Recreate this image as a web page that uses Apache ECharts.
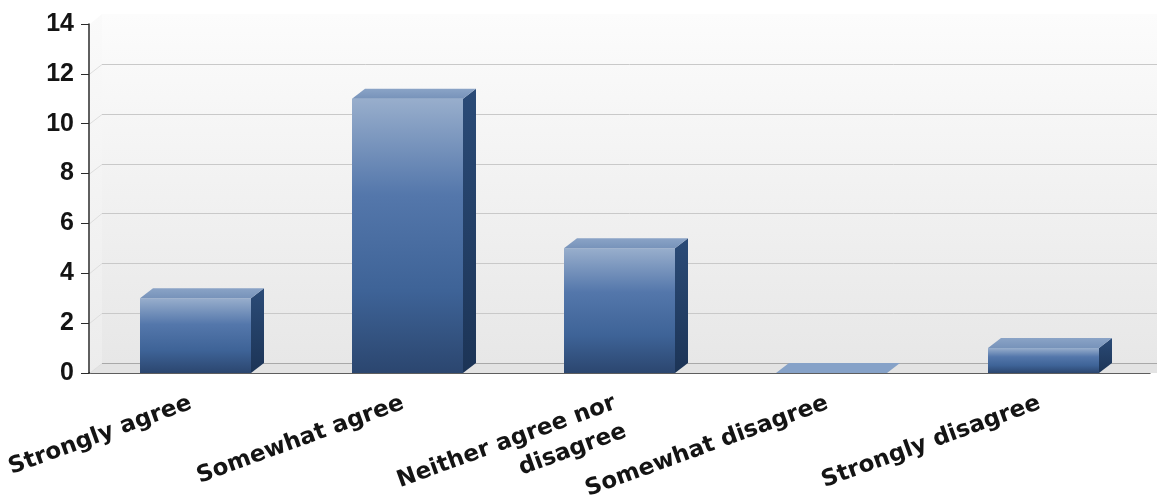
<!DOCTYPE html>
<html><head><meta charset="utf-8">
<script src="https://cdn.jsdelivr.net/npm/echarts@6/dist/echarts.min.js"></script>
<style>html,body{margin:0;padding:0;background:#fff}#c{width:1157px;height:498px}</style>
</head><body><div id="c"></div><script>
// ---- data ----
const categories = ['Strongly agree', 'Somewhat agree', 'Neither agree nor\ndisagree', 'Somewhat disagree', 'Strongly disagree'];
const values = [3, 11, 5, 0, 1];
const yMin = 0, yMax = 14, yStep = 2;
const gridValues = [0, 2, 4, 6, 8, 10, 12];

// ---- 3D look ----
const DX = 13, DY = 10;
const G = echarts.graphic;

function renderBar(params, api) {
  const cs = params.coordSys;
  const W = api.getWidth();
  const children = [];
  if (params.dataIndex === 0) {
    const top = cs.y, bottom = cs.y + cs.height;
    // back wall
    children.push({ type: 'rect', shape: { x: cs.x + DX, y: top - DY, width: W - (cs.x + DX), height: cs.height },
      style: { fill: new G.LinearGradient(0, 0, 0, 1, [{ offset: 0, color: '#fcfcfc' }, { offset: 1, color: '#e7e7e7' }]) } });
    // left wall
    children.push({ type: 'polygon', shape: { points: [[cs.x + 1, bottom], [cs.x + 1, top], [cs.x + DX, top - DY], [cs.x + DX, bottom - DY]] },
      style: { fill: new G.LinearGradient(0, 0, 0, 1, [{ offset: 0, color: '#fafafa' }, { offset: 1, color: '#ececec' }]) } });
    // floor
    children.push({ type: 'polygon', shape: { points: [[cs.x + 1, bottom], [cs.x + DX, bottom - DY], [W, bottom - DY], [W, bottom]] },
      style: { fill: '#e3e3e3' } });
    // grid lines on back wall
    gridValues.forEach(function (g) {
      const y = Math.round(api.coord([0, g])[1] - DY) + 0.5;
      const yf = api.coord([0, g])[1];
      children.push({ type: 'line', shape: { x1: cs.x + DX, y1: y, x2: W, y2: y }, style: { stroke: g === 0 ? '#a9a9a9' : '#c9c9c9', lineWidth: 1 } });
      children.push({ type: 'line', shape: { x1: cs.x + 1, y1: yf, x2: cs.x + DX, y2: y }, style: { stroke: '#dedede', lineWidth: 1 } });
    });
  }
  const i = api.value(0), v = api.value(1);
  const pt = api.coord([i, v]);
  const p0 = api.coord([i, 0]);
  const band = api.size([1, 0])[0];
  const bw = Math.round(band * 0.525);
  const x0 = Math.round(pt[0] - bw / 2);
  const yT = pt[1], yB = p0[1];
  if (yB - yT > 0.5) {
    // front face
    children.push({ type: 'rect', shape: { x: x0, y: yT, width: bw, height: yB - yT },
      style: { fill: new G.LinearGradient(0, 0, 0, 1, [
        { offset: 0, color: '#98aecc' }, { offset: 0.35, color: '#5477ab' },
        { offset: 0.7, color: '#3e6397' }, { offset: 1, color: '#2b466f' }]) } });
    // side face
    children.push({ type: 'polygon', shape: { points: [[x0 + bw, yT], [x0 + bw + DX, yT - DY], [x0 + bw + DX, yB - DY], [x0 + bw, yB]] },
      style: { fill: new G.LinearGradient(0, 0, 0, 1, [{ offset: 0, color: '#2b4b77' }, { offset: 1, color: '#1c3456' }]) } });
    // top face
    children.push({ type: 'polygon', shape: { points: [[x0, yT], [x0 + DX, yT - DY], [x0 + bw + DX, yT - DY], [x0 + bw, yT]] },
      style: { fill: new G.LinearGradient(0, 0, 0, 1, [{ offset: 0, color: '#8aa3c6' }, { offset: 1, color: '#7793ba' }]) } });
  } else {
    children.push({ type: 'polygon', shape: { points: [[x0, yB], [x0 + DX, yB - DY], [x0 + bw + DX, yB - DY], [x0 + bw, yB]] },
      style: { fill: '#86a2c8' } });
  }
  return { type: 'group', children: children };
}

const chart = echarts.init(document.getElementById('c'), null, { renderer: 'canvas' });
chart.setOption({
  backgroundColor: '#ffffff',
  animation: false,
  grid: { left: 89, right: 7, top: 24, bottom: 125, containLabel: false, outerBoundsMode: 'none' },
  xAxis: {
    type: 'category', data: categories, boundaryGap: true,
    axisLine: { lineStyle: { color: '#2a2a2a', width: 1.5 } },
    axisTick: { alignWithLabel: true, length: 7, lineStyle: { color: '#2a2a2a' } },
    axisLabel: { interval: 0, rotate: 20, fontFamily: 'DejaVu Sans', fontWeight: 'bold', color: '#141414',
      fontSize: 23, lineHeight: 30, margin: 12, verticalAlign: 'top', padding: [0, 10, 0, 0] }
  },
  yAxis: {
    type: 'value', min: yMin, max: yMax, interval: yStep,
    axisLine: { show: true, lineStyle: { color: '#2a2a2a', width: 1.5 } },
    axisTick: { show: true, length: 8, lineStyle: { color: '#2a2a2a' } },
    splitLine: { show: false },
    axisLabel: { fontFamily: 'Liberation Sans', fontWeight: 'bold', color: '#141414', fontSize: 25, margin: 15 }
  },
  series: [{
    type: 'custom',
    renderItem: renderBar,
    data: values.map(function (v, i) { return [i, v]; }),
    encode: { x: 0, y: 1 },
    clip: false
  }]
});
</script></body></html>
